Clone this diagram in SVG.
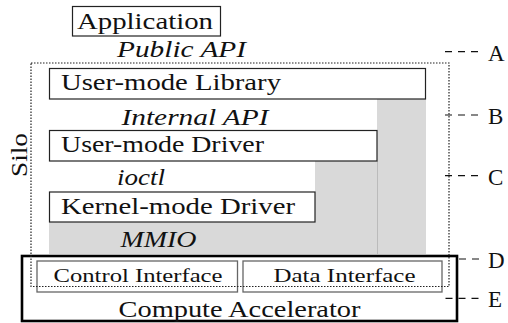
<svg xmlns="http://www.w3.org/2000/svg" width="508" height="323" viewBox="0 0 508 323">
<style>
text{font-family:"Liberation Serif","DejaVu Serif",serif;font-size:23px;fill:#111}
.it{font-style:italic}
.sm{font-size:19px}
.box{fill:#fff;stroke:#222;stroke-width:1.2}
.ibox{fill:#fff;stroke:#666;stroke-width:1.3}
.shade{fill:#d9d9d9}
.dash{stroke:#111;stroke-width:1.2;stroke-dasharray:7,6;fill:none}
.dot{fill:none;stroke:#222;stroke-width:1.2;stroke-dasharray:1.5,1.5}
</style>
<g id="shading">
<rect class="shade" x="377" y="99" width="49" height="155"/>
<rect class="shade" x="315" y="161" width="62" height="93"/>
<rect class="shade" x="49" y="222" width="266" height="32"/>
<line x1="377.5" y1="161" x2="377.5" y2="254" stroke="#bbb" stroke-width="1"/>
</g>
<g id="connectors">
<line class="dash" x1="445" y1="51.7" x2="481" y2="51.7"/>
<line class="dash" x1="445" y1="115" x2="481" y2="115"/>
<line class="dash" x1="445" y1="175.7" x2="481" y2="175.7"/>
<line class="dash" x1="459" y1="259" x2="481" y2="259"/>
</g>
<g id="application">
<rect class="box" x="72.5" y="6.5" width="148" height="29.5" stroke="#444"/>
<text x="77" y="29" textLength="136" lengthAdjust="spacingAndGlyphs">Application</text>
</g>
<g id="public-api"><text class="it" x="117" y="57" textLength="129" lengthAdjust="spacingAndGlyphs">Public API</text></g>
<g id="user-mode-library">
<rect class="box" x="49.5" y="68.5" width="376" height="30.5"/>
<text x="61" y="90" textLength="220" lengthAdjust="spacingAndGlyphs">User-mode Library</text>
</g>
<g id="internal-api"><text class="it" x="121.5" y="125" textLength="147" lengthAdjust="spacingAndGlyphs">Internal API</text></g>
<g id="user-mode-driver">
<rect class="box" x="49.5" y="130.5" width="327.5" height="30.5"/>
<text x="61" y="152" textLength="203" lengthAdjust="spacingAndGlyphs">User-mode Driver</text>
</g>
<g id="ioctl"><text class="it" x="117" y="185" textLength="48" lengthAdjust="spacingAndGlyphs">ioctl</text></g>
<g id="kernel-mode-driver">
<rect class="box" x="49.5" y="192" width="265.5" height="30" stroke="#555" stroke-width="1.5"/>
<text x="61" y="214" textLength="234" lengthAdjust="spacingAndGlyphs">Kernel-mode Driver</text>
</g>
<g id="mmio"><text class="it" x="120.5" y="246.5" textLength="76" lengthAdjust="spacingAndGlyphs">MMIO</text></g>
<g id="compute-accelerator">
<rect x="22" y="256" width="435" height="65" fill="#fff" stroke="#000" stroke-width="2.6"/>
<text x="118.5" y="316.5" textLength="242" lengthAdjust="spacingAndGlyphs">Compute Accelerator</text>
</g>
<g id="control-interface">
<rect class="ibox" x="37" y="261" width="200.5" height="31"/>
<text class="sm" x="138" y="281.7" text-anchor="middle" textLength="169" lengthAdjust="spacingAndGlyphs">Control Interface</text>
</g>
<g id="data-interface">
<rect class="ibox" x="243" y="261" width="199" height="31"/>
<text class="sm" x="344.5" y="281.7" text-anchor="middle" textLength="142" lengthAdjust="spacingAndGlyphs">Data Interface</text>
</g>
<g id="silo">
<rect class="dot" x="31" y="63" width="418" height="223.5"/>
<text transform="translate(27,155) rotate(-90)" text-anchor="middle" textLength="44" lengthAdjust="spacingAndGlyphs">Silo</text>
</g>
<g id="level-e"><line class="dash" x1="445.5" y1="298.3" x2="481" y2="298.3"/></g>
<g id="labels">
<text x="488" y="61">A</text>
<text x="488" y="124">B</text>
<text x="488" y="184.5">C</text>
<text x="488" y="268">D</text>
<text x="488" y="307">E</text>
</g>
</svg>
